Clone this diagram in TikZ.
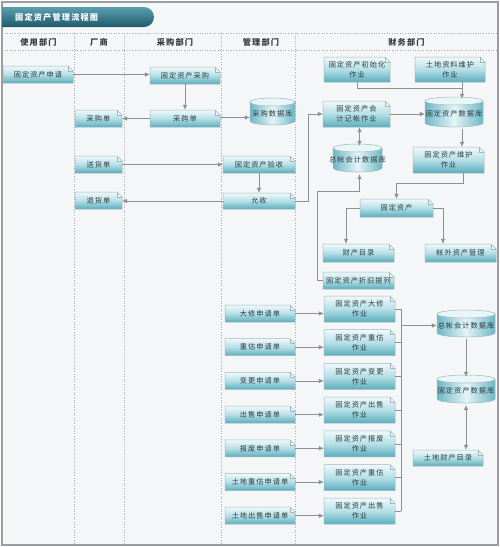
\documentclass[tikz,border=0pt]{standalone}
\usepackage{fontspec}
\setmainfont{Noto Sans CJK SC}[LetterSpace=14]
\usetikzlibrary{arrows.meta,calc}
\definecolor{pagebg}{HTML}{F4F6F8}
\definecolor{framegray}{HTML}{9A9EA2}
\definecolor{lanegray}{HTML}{A8ADB2}
\definecolor{linegray}{HTML}{8C9094}
\definecolor{docTop}{HTML}{F0F9FB}
\definecolor{docMid}{HTML}{B4DFE6}
\definecolor{docBot}{HTML}{5AADBC}
\definecolor{docEdge}{HTML}{9FB6BC}
\definecolor{cylSide}{HTML}{6DB7C5}
\definecolor{cylMid}{HTML}{E4F4F7}
\definecolor{cylTop}{HTML}{E9F6F8}
\definecolor{txt}{HTML}{2E3A40}
\definecolor{titleTop}{HTML}{5A9FB1}
\definecolor{titleBot}{HTML}{1E5A6B}
\newcommand{\docbox}[6]{%
  \path[top color=docTop,bottom color=docBot,middle color=docMid] (#2,#3) -- ({#4-5},#3) -- (#4,{#3+5}) -- (#4,#5) -- (#2,#5) -- cycle;
  \fill[docTop] ({#4-5},#3) -- ({#4-5},{#3+5}) -- (#4,{#3+5}) -- cycle;
  \draw[docEdge,line width=0.5pt] (#2,#3) -- ({#4-5},#3) -- (#4,{#3+5}) -- (#4,#5) -- (#2,#5) -- cycle;
  \draw[docEdge,line width=0.5pt] ({#4-5},#3) -- ({#4-5},{#3+5}) -- (#4,{#3+5});
  \node[boxtext,minimum width={#4-#2},minimum height={#5-#3}] (#1) at ({(#2+#4)/2},{(#3+#5)/2}) {#6};
}
\newcommand{\cylbox}[6]{%
  \path[left color=cylSide,right color=cylSide,middle color=cylMid] (#2,{#3+4}) -- (#2,{#5-4}) arc[start angle=180,end angle=0,x radius={(#4-#2)/2},y radius=4] -- (#4,{#3+4}) arc[start angle=0,end angle=180,x radius={(#4-#2)/2},y radius=4] -- cycle;
  \draw[docEdge,line width=0.5pt] (#2,{#3+4}) -- (#2,{#5-4}) arc[start angle=180,end angle=0,x radius={(#4-#2)/2},y radius=4] -- (#4,{#3+4});
  \draw[docEdge,line width=0.5pt,fill=cylTop] ({(#2+#4)/2},{#3+4}) ellipse[x radius={(#4-#2)/2},y radius=4];
  \node[boxtext,minimum width={#4-#2},minimum height={#5-#3}] (#1) at ({(#2+#4)/2},{(#3+#5)/2+2}) {#6};
}
\begin{document}
\begin{tikzpicture}[x=1pt,y=-1pt,
  boxtext/.style={inner sep=0pt,align=center,text=txt,font=\fontsize{7.2}{10}\selectfont},
  lanehead/.style={inner sep=0pt,text=txt,font=\fontsize{8.2}{10}\selectfont\bfseries},
  lane/.style={draw=lanegray,line width=0.6pt,dotted},
  conn/.style={draw=linegray,line width=0.6pt},
  arr/.style={conn,-{Latex[length=5pt,width=4.5pt]}},
  darr/.style={conn,{Latex[length=5pt,width=4.5pt]}-{Latex[length=5pt,width=4.5pt]}}]
\useasboundingbox (0,0) rectangle (500,547);
\fill[white] (0,0) rectangle (500,547);
\draw[framegray,line width=1.2pt,fill=pagebg] (2,2) rectangle (498,545);
% title banner
\path[top color=titleTop,bottom color=titleBot] (2,7) [rounded corners=10pt] -- (154,7) -- (154,27) [sharp corners] -- (2,27) -- cycle;
\node[inner sep=0pt,anchor=west,text=white,font=\fontsize{8.2}{10}\selectfont\bfseries] (title) at (15,17) {固定资产管理流程图};
% lanes
\draw[lane] (2,33) -- (498,33);
\draw[lane] (2,50) -- (498,50);
\foreach \lx in {74,124,221,295} { \draw[lane] (\lx,33) -- (\lx,545); }
\node[lanehead] (h1) at (38.5,42) {使用部门};
\node[lanehead] (h2) at (99,42) {厂商};
\node[lanehead] (h3) at (175,42) {采购部门};
\node[lanehead] (h4) at (261,42) {管理部门};
\node[lanehead] (h5) at (406.5,42) {财务部门};
% upper nodes
\docbox{u1}{3}{66}{73}{83}{固定资产申请}
\docbox{v1}{75}{110}{122}{127}{采购单}
\docbox{v2}{75}{156}{122}{173}{送货单}
\docbox{v3}{75}{192}{122}{209}{退货单}
\docbox{p1}{150}{67}{220}{84}{固定资产采购}
\docbox{p2}{150}{110}{220}{127}{采购单}
\cylbox{m1}{250}{98}{295}{125}{采购数据库}
\docbox{m2}{223}{156}{295}{173}{固定资产验收}
\docbox{m3}{223}{193}{295}{209}{允收}
\docbox{f1}{324}{57}{390}{82}{固定资产初始化\\作业}
\docbox{f2}{415}{57}{485}{82}{土地资料维护\\作业}
\docbox{f3}{323}{101}{390}{127}{固定资产会\\计记帐作业}
\cylbox{f4}{425}{97}{483}{127}{固定资产数据库}
\cylbox{f5}{333}{144}{382}{172}{总帐会计数据库}
\docbox{f6}{413}{147}{484}{173}{固定资产维护\\作业}
\docbox{f7}{360}{199}{433}{217}{固定资产}
\docbox{f8}{323}{244}{394}{262}{财产目录}
\docbox{f9}{425}{244}{496}{262}{帐外资产管理}
\docbox{f10}{323}{272}{394}{289}{固定资产折旧提列}
% lower nodes
\docbox{r1}{225}{305}{295}{322}{大修申请单}
\docbox{r2}{225}{338.7}{295}{355.7}{重估申请单}
\docbox{r3}{225}{372.4}{295}{389.4}{变更申请单}
\docbox{r4}{225}{406.1}{295}{423.1}{出售申请单}
\docbox{r5}{225}{439.8}{295}{456.8}{报废申请单}
\docbox{r6}{225}{473.5}{295}{490.5}{土地重估申请单}
\docbox{r7}{225}{507.2}{295}{524.2}{土地出售申请单}
\docbox{t1}{324}{296}{395}{322}{固定资产大修\\作业}
\docbox{t2}{324}{329.7}{395}{355.7}{固定资产重估\\作业}
\docbox{t3}{324}{363.4}{395}{389.4}{固定资产变更\\作业}
\docbox{t4}{324}{397.1}{395}{423.1}{固定资产出售\\作业}
\docbox{t5}{324}{430.8}{395}{456.8}{固定资产报废\\作业}
\docbox{t6}{324}{464.5}{395}{490.5}{固定资产重估\\作业}
\docbox{t7}{324}{498.2}{395}{524.2}{固定资产出售\\作业}
\cylbox{g1}{437}{310}{495}{337}{总帐会计数据库}
\cylbox{g2}{437}{375}{495}{403}{固定资产数据库}
\docbox{g3}{413}{450}{483}{466}{土地财产目录}
% junction coordinates
\coordinate (j1) at (462,88);
\coordinate (j2) at (463,183);
\coordinate (j3) at (346,208);
\coordinate (j4) at (443,208);
\coordinate (j5) at (317,191);
\coordinate (j6) at (308,201);
\coordinate (bx) at (401,0);
% upper connectors
\draw[arr] (u1.east) -- (u1.east -| p1.west);
\draw[arr] (p1.south) -- (p2.north);
\draw[arr] (p2.west) -- (p2.west -| v1.east);
\draw[arr] ([yshift=1]p2.east) -- ([yshift=1]p2.east -| m1.west);
\draw[arr] (v2.east) -- (v2.east -| m2.west);
\draw[arr] (m2.south) -- (m3.north);
\draw[arr] (m3.west) -- (m3.west -| v3.east);
\draw[arr] (m3.east) -- (j6) |- (f3.west);
\draw[conn] (f1.south) -- (f1.south |- j1) -- (j1);
\draw[arr] (j1 |- f2.south) -- (j1 |- f4.north);
\draw[arr] (f3.east) -- (f3.east -| f4.west);
\draw[darr] ([xshift=3]f3.south) -- ([xshift=3]f3.south |- f5.north);
\draw[arr] (j1 |- f4.south) -- (j1 |- f6.north);
\draw[arr] (j2 |- f6.south) -- (j2) -| (f7.north);
\draw[arr] (f7.west) -- (j3) -- (j3 |- f8.north);
\draw[arr] (f7.east) -- (j4) -- (j4 |- f9.north);
\draw[arr] (f10.west) -| (j5) -| ([xshift=2]f5.south);
% lower connectors
\foreach \k in {1,...,7} {
  \draw[arr] (r\k.east) -- (r\k.east -| t\k.west);
  \draw[conn] (t\k.east) -- (t\k.east -| bx);
}
\draw[conn] (t1.east -| bx) -- (t7.east -| bx);
\draw[arr] (bx |- g1.west) -- (g1.west);
\draw[arr] (g1.south) -- (g2.north);
\draw[darr] (g2.south) -- (g2.south |- g3.north);
\end{tikzpicture}
\end{document}
